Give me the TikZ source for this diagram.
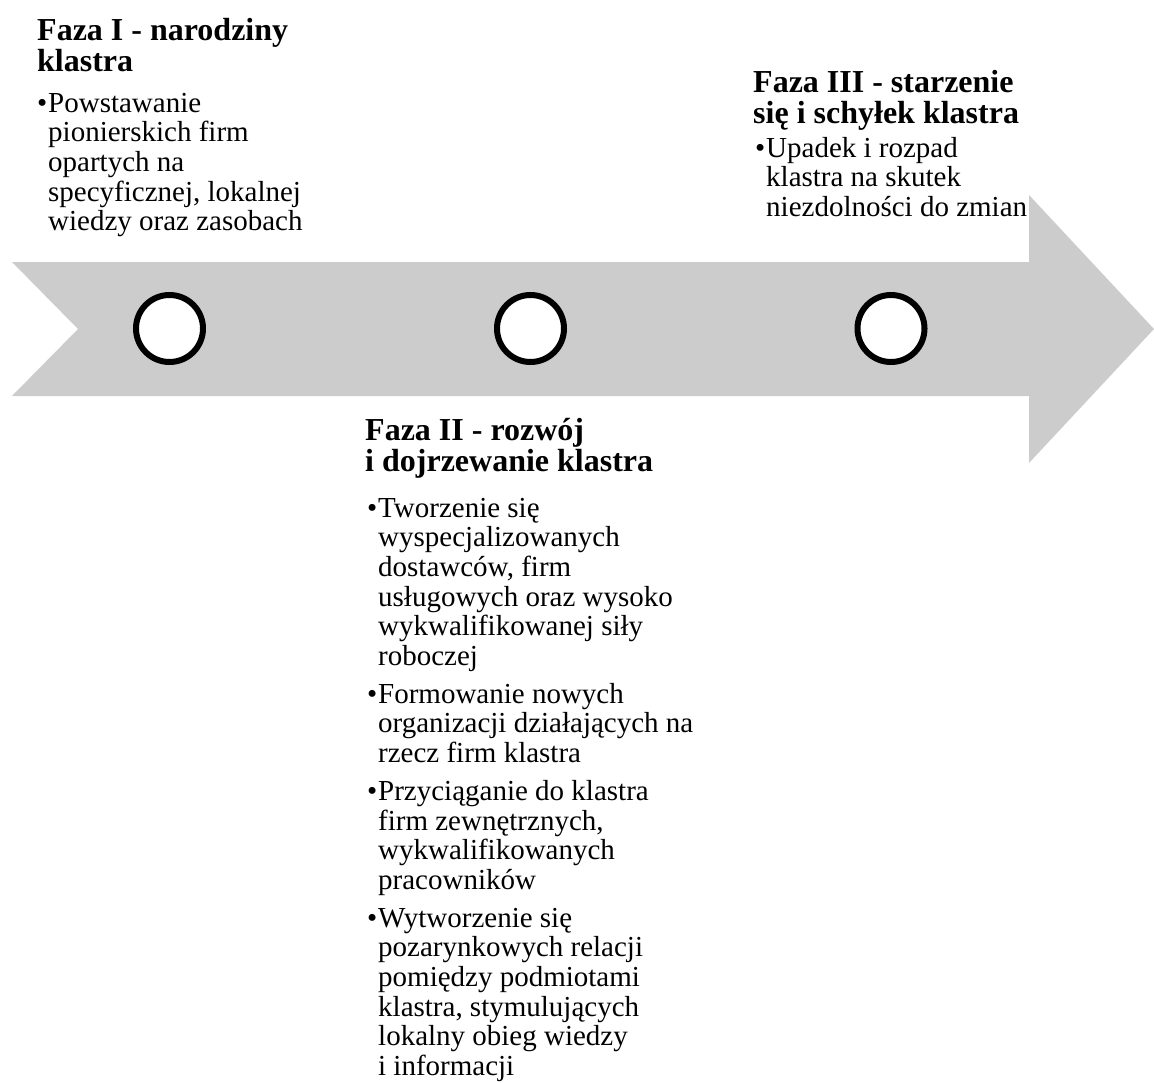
\documentclass[tikz,border=0pt]{standalone}
\usepackage{fontspec}
\setmainfont{Liberation Serif}
\definecolor{arrowgray}{HTML}{CCCCCC}

% one bulleted paragraph with a hanging indent under the bullet
\newcommand{\phaseitem}[1]{\noindent\hangindent=11pt\hangafter=1\makebox[11pt][l]{•}#1\par}
\newcommand{\itemgap}{\vspace{8pt}}

\tikzset{
  phasetitle/.style={anchor=base west, inner sep=0pt,
    font=\fontsize{32}{31.5}\selectfont\bfseries},
  phasebody/.style={anchor=base west, inner sep=0pt,
    font=\fontsize{29}{29.7}\selectfont},
  milestone/.style={circle, draw=black, line width=6pt, fill=white,
    minimum size=67pt, inner sep=0pt},
}

\begin{document}
\begin{tikzpicture}[x=1pt, y=-1pt]
  \useasboundingbox (0,0) rectangle (1154,1082);

  % timeline arrow with notched tail
  \fill[arrowgray] (12,262) -- (1029,262) -- (1029,195) -- (1154,329)
    -- (1029,463) -- (1029,396) -- (12,396) -- (78,329) -- cycle;

  % milestones on the timeline
  \node[milestone] (m1) at (169.5,328.5) {};
  \node[milestone] (m2) at (530.5,328.5) {};
  \node[milestone] (m3) at (891,328.5) {};

  % phase I
  \node[phasetitle] (t1) at (37,40)
    {\parbox[t]{400pt}{Faza I - narodziny\\klastra}};
  \node[phasebody] (b1) at (37,112)
    {\parbox[t]{400pt}{\phaseitem{Powstawanie\\pionierskich firm\\opartych na\\specyficznej, lokalnej\\wiedzy oraz zasobach}}};

  % phase II
  \node[phasetitle] (t2) at (365,440)
    {\parbox[t]{400pt}{Faza II - rozwój\\i dojrzewanie klastra}};
  \node[phasebody] (b2) at (367,517)
    {\parbox[t]{400pt}{%
      \phaseitem{Tworzenie się\\wyspecjalizowanych\\dostawców, firm\\usługowych oraz wysoko\\wykwalifikowanej siły\\roboczej}\itemgap
      \phaseitem{Formowanie nowych\\organizacji działających na\\rzecz firm klastra}\itemgap
      \phaseitem{Przyciąganie do klastra\\firm zewnętrznych,\\wykwalifikowanych\\pracowników}\itemgap
      \phaseitem{Wytworzenie się\\pozarynkowych relacji\\pomiędzy podmiotami\\klastra, stymulujących\\lokalny obieg wiedzy\\i informacji}}};

  % phase III
  \node[phasetitle] (t3) at (753,92)
    {\parbox[t]{400pt}{Faza III - starzenie\\się i schyłek klastra}};
  \node[phasebody] (b3) at (755,157)
    {\parbox[t]{400pt}{\phaseitem{Upadek i rozpad\\klastra na skutek\\niezdolności do zmian}}};
\end{tikzpicture}
\end{document}
